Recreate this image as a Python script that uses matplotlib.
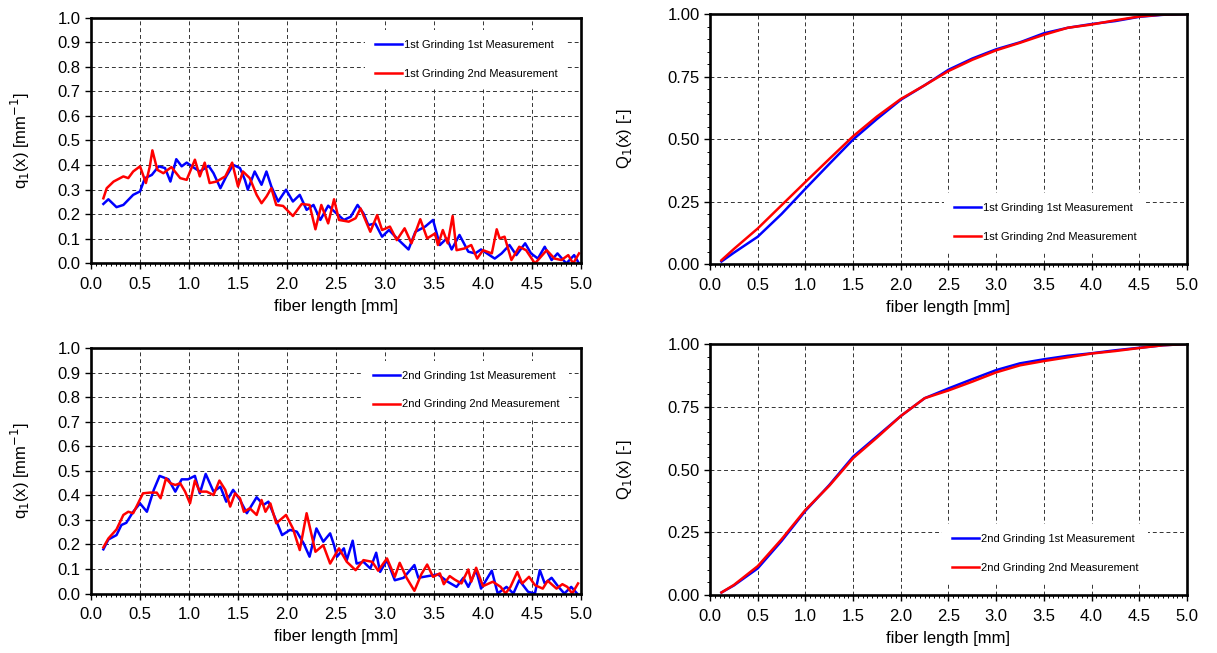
import numpy as np
import matplotlib
matplotlib.use("Agg")
import matplotlib.pyplot as plt
from matplotlib.ticker import MultipleLocator

plt.rcParams['font.family'] = ['Liberation Sans', 'DejaVu Sans']

# q1(x) density, 1st grinding
g1m1_x = [0.126, 0.177, 0.26, 0.33, 0.43, 0.50, 0.55, 0.62, 0.69, 0.755, 0.81, 0.87, 0.925, 0.976,
          1.04, 1.11, 1.20, 1.25, 1.32, 1.38, 1.45, 1.52, 1.57, 1.60, 1.67, 1.74, 1.79, 1.84, 1.91,
          1.99, 2.06, 2.13, 2.20, 2.27, 2.34, 2.42, 2.50, 2.58, 2.65, 2.72, 2.78, 2.83, 2.90, 2.97,
          3.04, 3.14, 3.24, 3.31, 3.41, 3.49, 3.56, 3.63, 3.68, 3.76, 3.85, 3.92, 3.98, 4.04, 4.12,
          4.19, 4.27, 4.34, 4.43, 4.49, 4.56, 4.63, 4.70, 4.76, 4.85, 4.93, 4.98]
g1m1_q = [0.242, 0.261, 0.229, 0.238, 0.279, 0.293, 0.347, 0.36, 0.395, 0.388, 0.333, 0.424, 0.395, 0.41,
          0.392, 0.374, 0.397, 0.367, 0.306, 0.354, 0.401, 0.388, 0.34, 0.30, 0.374, 0.32, 0.374, 0.313, 0.252,
          0.30, 0.252, 0.279, 0.218, 0.238, 0.177, 0.235, 0.205, 0.177, 0.19, 0.238, 0.204, 0.156, 0.163, 0.109,
          0.136, 0.095, 0.057, 0.129, 0.15, 0.177, 0.075, 0.102, 0.057, 0.116, 0.048, 0.041, 0.057, 0.041, 0.02,
          0.041, 0.075, 0.034, 0.082, 0.041, 0.02, 0.068, 0.014, 0.041, 0.0, 0.034, 0.0]

g1m2_x = [0.126, 0.16, 0.23, 0.33, 0.38, 0.43, 0.50, 0.56, 0.60, 0.626, 0.676, 0.738, 0.82, 0.91, 0.976,
          1.06, 1.11, 1.16, 1.21, 1.28, 1.37, 1.44, 1.50, 1.55, 1.62, 1.69, 1.74, 1.79, 1.84, 1.89, 1.96,
          2.06, 2.15, 2.23, 2.29, 2.35, 2.42, 2.48, 2.53, 2.63, 2.70, 2.75, 2.85, 2.92, 2.97, 3.05, 3.12,
          3.20, 3.27, 3.36, 3.43, 3.51, 3.54, 3.59, 3.64, 3.69, 3.73, 3.81, 3.88, 3.94, 4.00, 4.09, 4.14,
          4.17, 4.22, 4.29, 4.37, 4.44, 4.53, 4.65, 4.73, 4.80, 4.87, 4.92, 4.98]
g1m2_q = [0.265, 0.306, 0.333, 0.354, 0.347, 0.374, 0.395, 0.327, 0.395, 0.46, 0.381, 0.367, 0.392, 0.347, 0.34,
          0.422, 0.354, 0.41, 0.327, 0.333, 0.354, 0.41, 0.313, 0.374, 0.347, 0.279, 0.245, 0.272, 0.306, 0.238, 0.234,
          0.193, 0.242, 0.238, 0.139, 0.238, 0.163, 0.261, 0.177, 0.17, 0.184, 0.224, 0.129, 0.197, 0.136, 0.15, 0.095,
          0.143, 0.082, 0.18, 0.102, 0.122, 0.075, 0.136, 0.082, 0.193, 0.054, 0.061, 0.075, 0.02, 0.054, 0.041, 0.139,
          0.102, 0.109, 0.014, 0.068, 0.054, 0.0, 0.054, 0.02, 0.014, 0.034, 0.0, 0.041]

# q1(x) density, 2nd grinding
g2m1_x = [0.126, 0.177, 0.26, 0.31, 0.36, 0.43, 0.50, 0.57, 0.64, 0.70, 0.79, 0.86, 0.925, 0.99, 1.06,
          1.11, 1.17, 1.25, 1.32, 1.38, 1.45, 1.52, 1.59, 1.69, 1.76, 1.81, 1.88, 1.95, 2.03, 2.10, 2.17,
          2.23, 2.30, 2.37, 2.44, 2.48, 2.51, 2.58, 2.61, 2.67, 2.71, 2.78, 2.85, 2.91, 2.95, 3.02, 3.10,
          3.19, 3.30, 3.34, 3.44, 3.54, 3.64, 3.73, 3.80, 3.85, 3.93, 3.98, 4.09, 4.15, 4.24, 4.31, 4.37,
          4.46, 4.53, 4.58, 4.63, 4.70, 4.77, 4.83, 4.90, 4.96]
g2m1_q = [0.18, 0.22, 0.238, 0.279, 0.288, 0.333, 0.367, 0.333, 0.422, 0.479, 0.465, 0.415, 0.465, 0.465, 0.479,
          0.408, 0.487, 0.415, 0.435, 0.374, 0.422, 0.381, 0.327, 0.392, 0.361, 0.374, 0.306, 0.238, 0.259, 0.252, 0.204,
          0.15, 0.265, 0.211, 0.245, 0.197, 0.15, 0.184, 0.136, 0.215, 0.122, 0.129, 0.102, 0.166, 0.088, 0.136, 0.054,
          0.064, 0.116, 0.064, 0.071, 0.078, 0.048, 0.027, 0.064, 0.027, 0.095, 0.02, 0.093, 0.0, 0.027, 0.0, 0.054,
          0.007, 0.0, 0.095, 0.041, 0.064, 0.027, 0.0, 0.027, 0.0]

g2m2_x = [0.126, 0.177, 0.26, 0.33, 0.38, 0.43, 0.48, 0.53, 0.60, 0.67, 0.71, 0.765, 0.81, 0.86, 0.91,
          0.96, 1.01, 1.06, 1.11, 1.18, 1.25, 1.31, 1.37, 1.42, 1.47, 1.52, 1.56, 1.62, 1.69, 1.74, 1.78,
          1.83, 1.89, 1.99, 2.06, 2.13, 2.20, 2.29, 2.37, 2.44, 2.53, 2.61, 2.70, 2.78, 2.87, 2.93, 3.02,
          3.10, 3.15, 3.22, 3.30, 3.37, 3.43, 3.49, 3.56, 3.60, 3.66, 3.71, 3.78, 3.85, 3.88, 3.93, 4.00,
          4.10, 4.18, 4.23, 4.28, 4.35, 4.40, 4.47, 4.53, 4.61, 4.66, 4.75, 4.81, 4.86, 4.91, 4.97]
g2m2_q = [0.188, 0.224, 0.261, 0.32, 0.333, 0.327, 0.367, 0.408, 0.411, 0.411, 0.388, 0.469, 0.449, 0.442, 0.449,
          0.415, 0.367, 0.46, 0.415, 0.415, 0.401, 0.46, 0.422, 0.354, 0.408, 0.388, 0.333, 0.347, 0.32, 0.381, 0.333,
          0.367, 0.286, 0.32, 0.265, 0.177, 0.327, 0.17, 0.197, 0.122, 0.184, 0.129, 0.095, 0.136, 0.129, 0.093, 0.143,
          0.068, 0.125, 0.064, 0.011, 0.078, 0.118, 0.068, 0.082, 0.038, 0.071, 0.057, 0.041, 0.098, 0.048, 0.105, 0.03,
          0.048, 0.027, 0.0, 0.027, 0.088, 0.041, 0.068, 0.034, 0.02, 0.052, 0.02, 0.038, 0.027, 0.0, 0.041]

# Q1(x) cumulative
cum_x = [0.12, 0.25, 0.5, 0.75, 1.0, 1.25, 1.5, 1.75, 2.0, 2.25, 2.5, 2.75, 3.0, 3.25, 3.5, 3.75,
         4.0, 4.25, 4.5, 4.75, 5.0]
g1m1_Q = [0.01, 0.045, 0.109, 0.20, 0.301, 0.40, 0.498, 0.58, 0.657, 0.715, 0.777, 0.822, 0.859, 0.887,
          0.923, 0.945, 0.96, 0.972, 0.989, 0.997, 1.0]
g1m2_Q = [0.015, 0.06, 0.142, 0.235, 0.328, 0.42, 0.511, 0.59, 0.66, 0.715, 0.772, 0.817, 0.855, 0.885,
          0.917, 0.945, 0.958, 0.975, 0.99, 0.998, 1.0]
g2m1_Q = [0.01, 0.038, 0.106, 0.215, 0.335, 0.438, 0.551, 0.632, 0.713, 0.784, 0.823, 0.86, 0.896, 0.923,
          0.939, 0.953, 0.963, 0.975, 0.985, 0.995, 1.0]
g2m2_Q = [0.01, 0.04, 0.115, 0.222, 0.339, 0.435, 0.545, 0.627, 0.713, 0.784, 0.815, 0.85, 0.887, 0.915,
          0.932, 0.947, 0.962, 0.972, 0.984, 0.995, 1.0]

labels_1 = ["1st Grinding 1st Measurement", "1st Grinding 2nd Measurement"]
labels_2 = ["2nd Grinding 1st Measurement", "2nd Grinding 2nd Measurement"]

BLUE = "#0000ff"
RED = "#ff0000"
FS = 12


def style_axes(ax, ymax, ystep, yminor, yfmt):
    ax.set_xlim(0, 5)
    ax.set_ylim(0, ymax)
    ax.xaxis.set_major_locator(MultipleLocator(0.5))
    ax.xaxis.set_minor_locator(MultipleLocator(0.05))
    ax.yaxis.set_major_locator(MultipleLocator(ystep))
    if yminor:
        ax.yaxis.set_minor_locator(MultipleLocator(yminor))
    ax.yaxis.set_major_formatter(plt.FormatStrFormatter(yfmt))
    ax.xaxis.set_major_formatter(plt.FormatStrFormatter("%.1f"))
    ax.grid(True, which="major", color="#333333", linestyle=(0, (4, 3)), linewidth=0.7)
    ax.tick_params(which="major", direction="out", length=4, width=1, labelsize=FS, colors="black")
    ax.tick_params(axis="x", which="major", pad=6)
    ax.tick_params(which="minor", direction="out", length=2.5, width=0.7)
    for sp in ax.spines.values():
        sp.set_linewidth(1.9)
    ax.set_xlabel("fiber length [mm]", fontsize=FS, labelpad=5)


def add_legend(ax, anchor):
    leg = ax.legend(loc="center", bbox_to_anchor=anchor, fontsize=8, frameon=True,
                    handlelength=2.4, handletextpad=0.15, labelspacing=1.7,
                    borderpad=0.9, fancybox=False)
    leg.get_frame().set_edgecolor("none")
    leg.get_frame().set_facecolor("white")
    leg.get_frame().set_alpha(1)
    leg.set_zorder(5)


fig = plt.figure(figsize=(12.17, 6.53), dpi=100)
ax_tl = fig.add_axes([0.0748, 0.5965, 0.4026, 0.3767])
ax_tr = fig.add_axes([0.5834, 0.5957, 0.3919, 0.3828])
ax_bl = fig.add_axes([0.0748, 0.0911, 0.4026, 0.3760])
ax_br = fig.add_axes([0.5834, 0.0888, 0.3919, 0.3844])

# density panels
for ax, (xb, yb), (xr, yr), labs in [
    (ax_tl, (g1m1_x, g1m1_q), (g1m2_x, g1m2_q), labels_1),
    (ax_bl, (g2m1_x, g2m1_q), (g2m2_x, g2m2_q), labels_2),
]:
    ax.plot(xb, yb, color=BLUE, lw=1.8, label=labs[0])
    ax.plot(xr, yr, color=RED, lw=1.8, label=labs[1])
    style_axes(ax, 1.0, 0.1, None, "%.1f")
    ax.set_ylabel("q$_1$(x) [mm$^{-1}$]", fontsize=FS, labelpad=18)
    add_legend(ax, (0.766, 0.829))

# cumulative panels
for ax, yb, yr, labs in [
    (ax_tr, g1m1_Q, g1m2_Q, labels_1),
    (ax_br, g2m1_Q, g2m2_Q, labels_2),
]:
    ax.plot(cum_x, yb, color=BLUE, lw=1.8, label=labs[0])
    ax.plot(cum_x, yr, color=RED, lw=1.8, label=labs[1])
    style_axes(ax, 1.0, 0.25, 0.05, "%.2f")
    ax.set_ylabel("Q$_1$(x) [-]", fontsize=FS, labelpad=24)
    add_legend(ax, (0.703, 0.166))

fig.savefig("out.png", dpi=100)
